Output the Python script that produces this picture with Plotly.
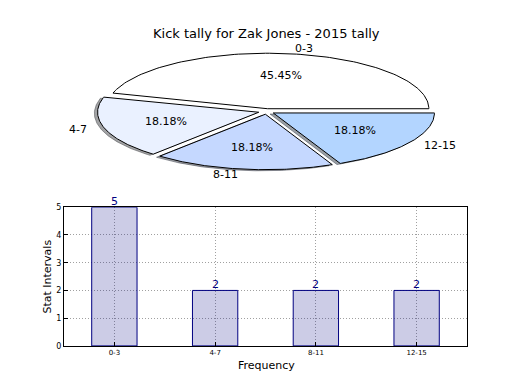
import numpy as np
import plotly.graph_objects as go

# ---- data ----
categories = ["0-3", "4-7", "8-11", "12-15"]
counts = [5, 2, 2, 2]
pie_colors = ["#ffffff", "#eaf1ff", "#c5d8ff", "#b3d5ff"]
explode = [0.05, 0.05, 0.05, 0.05]
shadow_on = [False, True, True, True]
title_text = "Kick tally for Zak Jones - 2015 tally"

W, H = 520, 390
fig = go.Figure()

# ---- pie (drawn as wedges on its own axes, matplotlib-style stretched) ----
total = float(sum(counts))
fracs = [c / total for c in counts]
starts = np.concatenate([[0.0], np.cumsum(fracs)[:-1]]) * 360.0
ends = np.cumsum(fracs) * 360.0


def wedge(cx, cy, t1, t2, r=1.0, n=120):
    th = np.radians(np.linspace(t1, t2, n))
    xs = np.concatenate([[cx], cx + r * np.cos(th), [cx]])
    ys = np.concatenate([[cy], cy + r * np.sin(th), [cy]])
    return xs, ys


def shade(hexcol):
    h = hexcol.lstrip("#")
    r, g, b = (int(h[i:i + 2], 16) for i in (0, 2, 4))
    return "rgba(%d,%d,%d,0.5)" % (0.3 * r, 0.3 * g, 0.3 * b)


centers = []
for i in range(len(counts)):
    tm = np.radians((starts[i] + ends[i]) / 2)
    centers.append((explode[i] * np.cos(tm), explode[i] * np.sin(tm), tm))

# shadows first
for i in range(len(counts)):
    if not shadow_on[i]:
        continue
    cx, cy, tm = centers[i]
    xs, ys = wedge(cx - 0.02, cy - 0.02, starts[i], ends[i])
    fig.add_trace(go.Scatter(x=xs, y=ys, xaxis="x2", yaxis="y2", mode="lines",
                             fill="toself", fillcolor=shade(pie_colors[i]),
                             line=dict(color=shade(pie_colors[i]), width=1),
                             hoverinfo="skip", showlegend=False))
for i in range(len(counts)):
    cx, cy, tm = centers[i]
    xs, ys = wedge(cx, cy, starts[i], ends[i])
    fig.add_trace(go.Scatter(x=xs, y=ys, xaxis="x2", yaxis="y2", mode="lines",
                             fill="toself", fillcolor=pie_colors[i],
                             line=dict(color="black", width=1),
                             hoverinfo="skip", showlegend=False))
    # percentage
    fig.add_annotation(x=cx + 0.6 * np.cos(tm), y=cy + 0.6 * np.sin(tm),
                       xref="x2", yref="y2", text="%.2f%%" % (100 * fracs[i]),
                       showarrow=False, xanchor="center", yanchor="middle",
                       font=dict(size=11, color="black"))
    # label
    lx = cx + 1.1 * np.cos(tm)
    ly = cy + 1.1 * np.sin(tm)
    fig.add_annotation(x=lx, y=ly, xref="x2", yref="y2", text=categories[i],
                       showarrow=False, xanchor="left" if lx > 0 else "right",
                       yanchor="middle", font=dict(size=11, color="black"))

# ---- bar chart ----
fig.add_trace(go.Bar(x=categories, y=counts, width=0.45,
                     marker=dict(color="rgba(0,0,128,0.2)",
                                 line=dict(color="#000080", width=1)),
                     hoverinfo="skip", showlegend=False))
for c, v in zip(categories, counts):
    fig.add_annotation(x=c, y=v, xref="x", yref="y", text=str(v), showarrow=False,
                       xanchor="center", yanchor="bottom", yshift=-3,
                       font=dict(size=11, color="#000080"))

grid = dict(showgrid=True, gridcolor="#a0a0a0", griddash="1px,2px", gridwidth=1)
fig.update_layout(
    width=W, height=H,
    margin=dict(l=0, r=0, t=0, b=0),
    paper_bgcolor="white", plot_bgcolor="white",
    font=dict(family="DejaVu Sans", color="black"),
    xaxis=dict(domain=[64 / W, 467 / W], anchor="y", range=[-0.5, 3.5],
               showline=True, mirror=True, linecolor="black", linewidth=1,
               ticks="inside", ticklen=4, tickcolor="black",
               tickfont=dict(size=7), zeroline=False, **grid),
    yaxis=dict(domain=[1 - 350 / H, 1 - 208 / H], anchor="x", range=[0, 5],
               tickvals=[0, 1, 2, 3, 4, 5],
               showline=True, mirror=True, linecolor="black", linewidth=1,
               ticks="inside", ticklen=4, tickcolor="black",
               tickfont=dict(size=8), zeroline=False, **grid),
    xaxis2=dict(domain=[65 / W, 468 / W], anchor="y2", range=[-1.25, 1.25],
                visible=False, fixedrange=True),
    yaxis2=dict(domain=[1 - 181 / H, 1 - 39 / H], anchor="x2", range=[-1.25, 1.25],
                visible=False, fixedrange=True),
)

fig.add_annotation(x=266.5 / W, y=1 - 30 / H, xref="paper", yref="paper",
                   xanchor="center", yanchor="middle",
                   text=title_text, showarrow=False, font=dict(size=13))
fig.add_annotation(x=48 / W, y=1 - 279 / H, xref="paper", yref="paper",
                   xanchor="center", yanchor="middle",
                   text="Stat Intervals", textangle=-90, showarrow=False,
                   font=dict(size=11))
fig.add_annotation(x=266 / W, y=1 - 370 / H, xref="paper", yref="paper",
                   xanchor="center", yanchor="middle",
                   text="Frequency", showarrow=False, font=dict(size=11))

fig.write_html("out.html", config={"displayModeBar": False},
               post_script="document.body.style.margin='0';document.body.style.overflow='hidden';")
